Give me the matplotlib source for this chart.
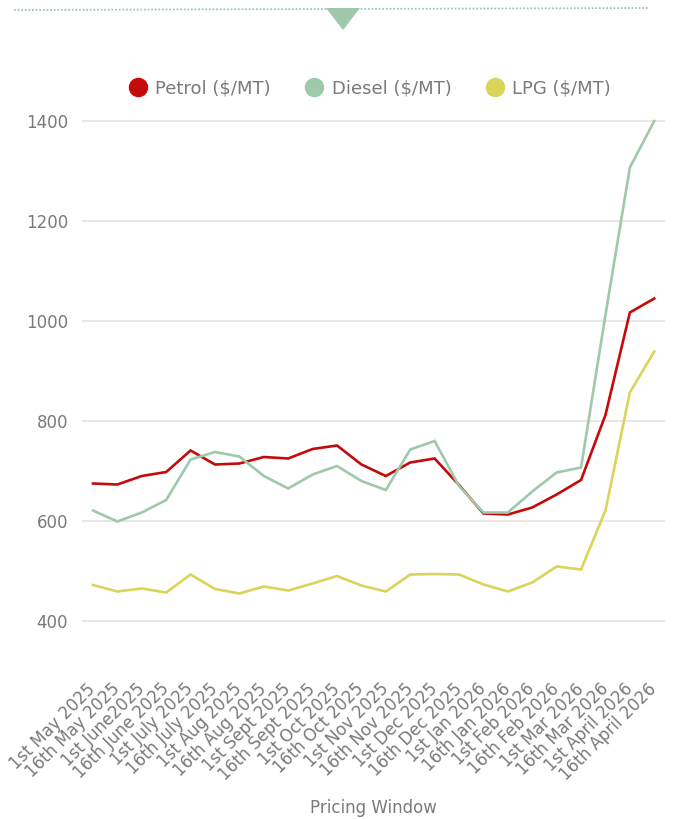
import matplotlib
matplotlib.use("Agg")
import matplotlib.pyplot as plt
from matplotlib.lines import Line2D
from matplotlib.patches import Polygon

# pricing windows (x categories)
windows = [
    "1st May 2025", "16th May 2025", "1st June2025", "16th June 2025",
    "1st July 2025", "16th July 2025", "1st Aug 2025", "16th Aug 2025",
    "1st Sept 2025", "16th Sept 2025", "1st Oct 2025", "16th Oct 2025",
    "1st Nov 2025", "16th Nov 2025", "1st Dec 2025", "16th Dec 2025",
    "1st Jan 2026", "16th Jan 2026", "1st Feb 2026", "16th Feb 2026",
    "1st Mar 2026", "16th Mar 2026", "1st April 2026", "16th April 2026",
]

petrol = [675, 673, 690, 698, 741, 713, 715, 728, 725, 744, 751, 713,
          690, 717, 725, 672, 615, 613, 627, 653, 682, 812, 1017, 1045]
diesel = [621, 599, 617, 642, 723, 738, 729, 690, 665, 693, 710, 680,
          662, 743, 760, 670, 617, 617, 659, 697, 707, 1012, 1307, 1400]
lpg = [472, 459, 465, 457, 493, 464, 455, 469, 461, 475, 490, 471,
       459, 493, 494, 493, 473, 459, 477, 509, 503, 621, 857, 939]

series_names = ["Petrol ($/MT)", "Diesel ($/MT)", "LPG ($/MT)"]
series_colors = ["#c40a0a", "#9fc9aa", "#dad45a"]
yticks = [400, 600, 800, 1000, 1200, 1400]

text_col = "#7a7a7a"
plt.rcParams['font.family'] = ['DejaVu Sans']

fig = plt.figure(figsize=(6.75, 8.19), dpi=100)
ax = fig.add_axes([82 / 675, 148 / 819, 583 / 675, 561 / 819])

x = list(range(len(windows)))
for vals, col in zip([petrol, diesel, lpg], series_colors):
    ax.plot(x, vals, color=col, lw=1.9, solid_joinstyle='miter', zorder=3)

ax.set_xlim(-0.45, len(windows) - 0.56)
ax.set_ylim(300, 1422)
ax.set_yticks(yticks)
ax.set_yticklabels([str(v) for v in yticks], fontsize=12, color=text_col)
ax.set_xticks(x)
ax.set_xticklabels(windows, rotation=45, ha='right', va='center',
                   rotation_mode='anchor', fontsize=12, color=text_col)
ax.tick_params(axis='both', length=0)
ax.tick_params(axis='y', pad=10)
ax.tick_params(axis='x', pad=11)
ax.grid(axis='y', color='#e6e6e6', lw=1.3)
ax.set_axisbelow(True)
for sp in ax.spines.values():
    sp.set_visible(False)

ax.set_xlabel("Pricing Window", fontsize=12, color=text_col)
ax.xaxis.set_label_coords(0.5, -0.228)

handles = [Line2D([], [], marker='o', linestyle='', markersize=13, color=c)
           for c in series_colors]
fig.legend(handles, series_names, loc='center', ncol=3, frameon=False,
           bbox_to_anchor=(0.548, 1 - 88 / 819), fontsize=13,
           labelcolor=text_col, handletextpad=0.45, columnspacing=1.9,
           handlelength=1.0)

# top decoration: dotted rule with a down-pointing marker
fig.add_artist(Line2D([14 / 675, 648 / 675], [1 - 10 / 819, 1 - 8 / 819],
                      transform=fig.transFigure, color='#9fc9aa',
                      lw=1.3, linestyle=(0, (1, 1))))
fig.add_artist(Polygon([[326 / 675, 1 - 8 / 819], [360 / 675, 1 - 8 / 819],
                        [343 / 675, 1 - 30 / 819]], closed=True,
                       transform=fig.transFigure, color='#9fc9aa', lw=0))

fig.savefig("out.png", dpi=100)
